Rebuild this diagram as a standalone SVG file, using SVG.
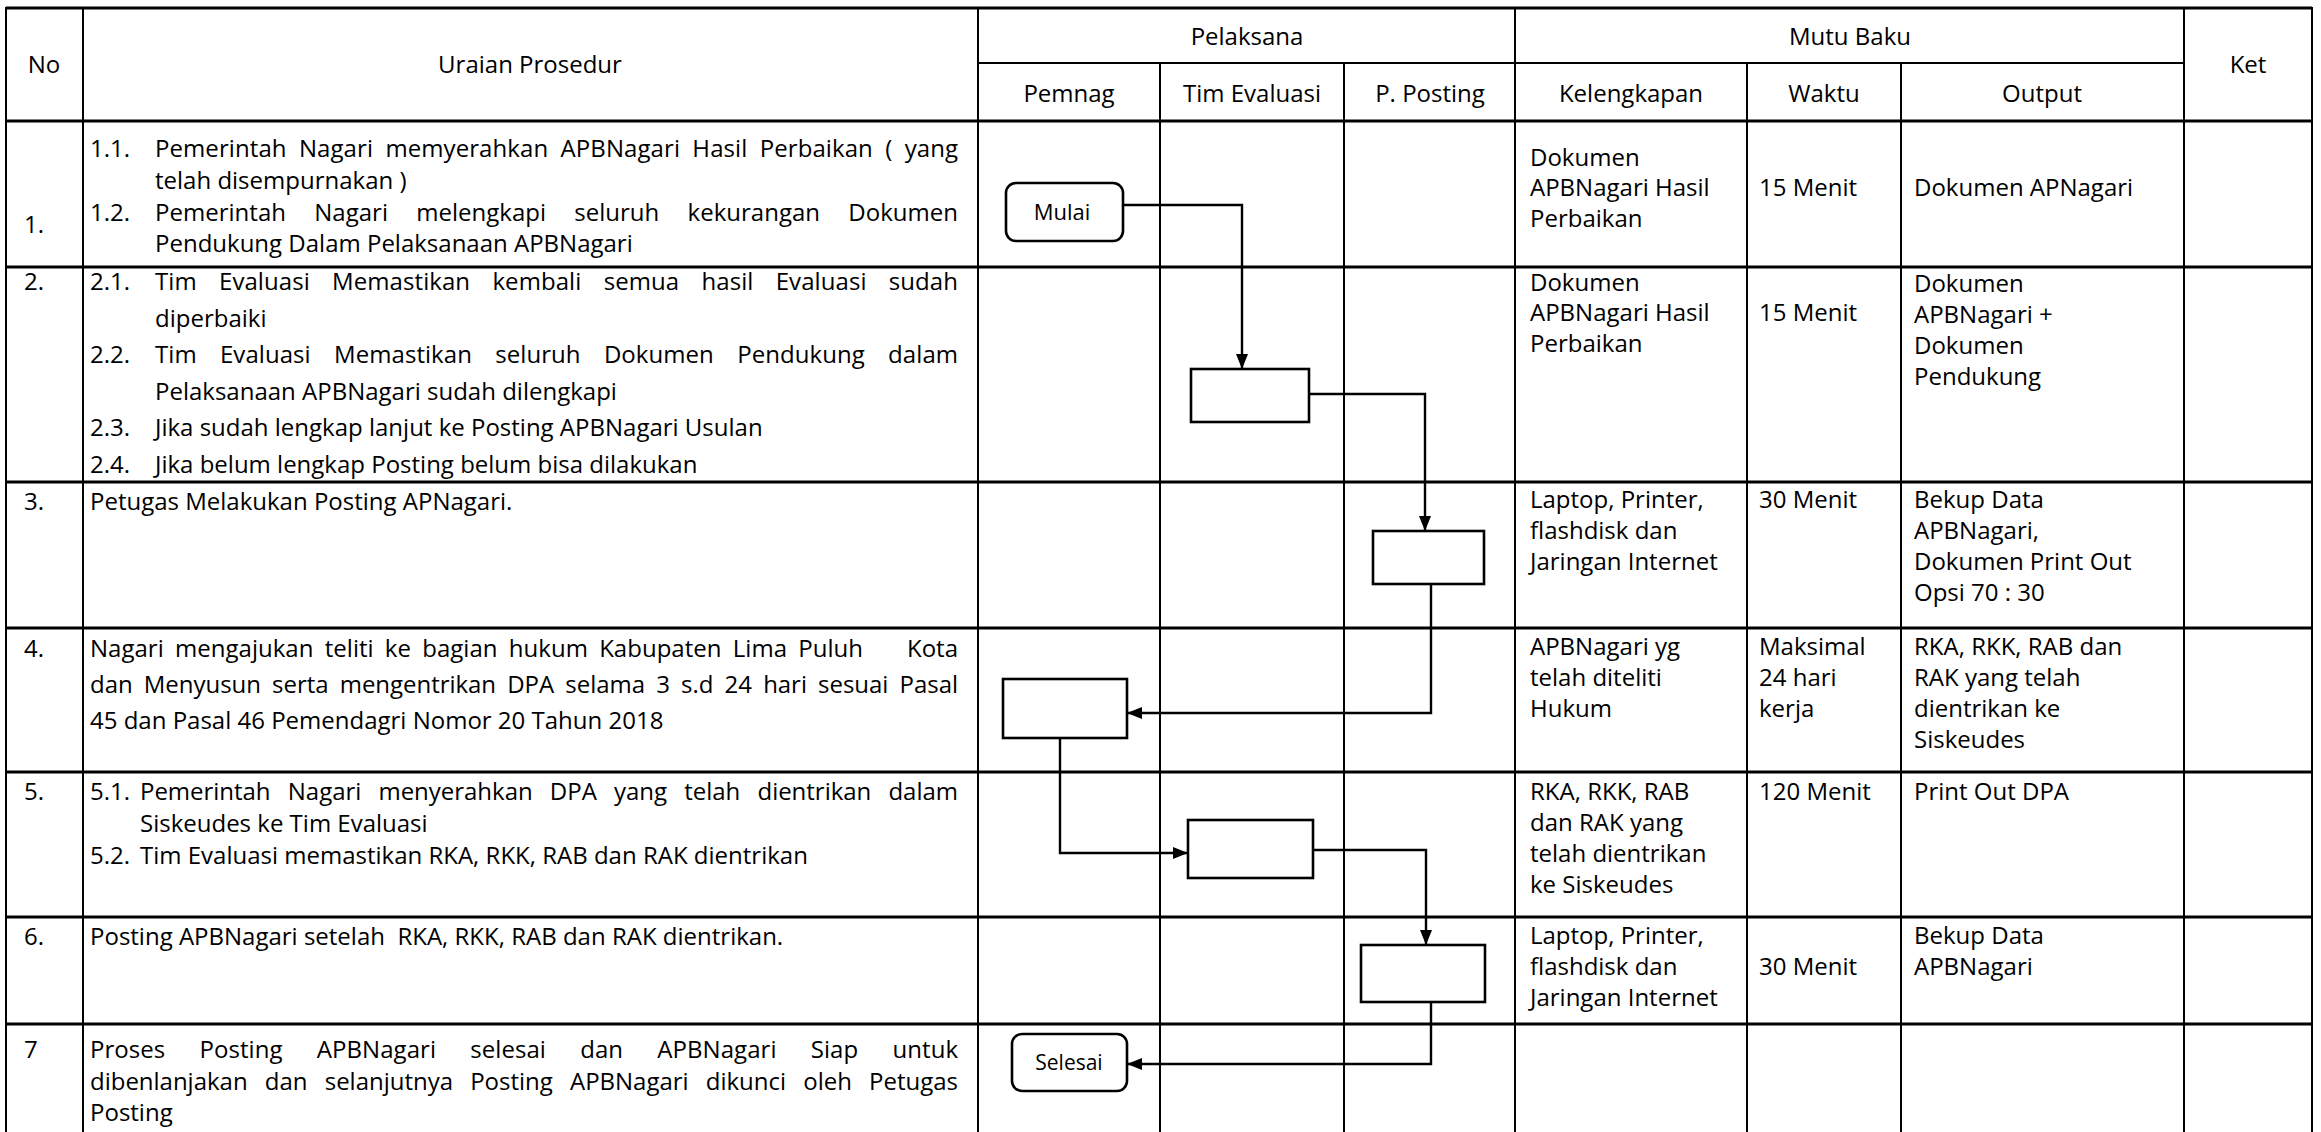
<svg xmlns="http://www.w3.org/2000/svg" width="2321" height="1132" viewBox="0 0 2321 1132">
<style>
text{font-family:"Open Sans","Liberation Sans",sans-serif;font-size:24px;fill:#000}
.m{text-anchor:middle}
.e{text-anchor:end}
.g line{stroke:#000;stroke-width:2}
.g .h{stroke-width:2.8}
.box{fill:#fff;stroke:#000;stroke-width:2.6}
.conn path{fill:none;stroke:#000;stroke-width:2.4;marker-end:url(#ah)}
.nl{font-size:22px}
.sl{font-size:21px}
</style>
<defs>
<marker id="ah" markerUnits="userSpaceOnUse" markerWidth="15" markerHeight="12" refX="15" refY="6" orient="auto"><path d="M0,0L15,6L0,12z" fill="#000"/></marker>
</defs>
<rect width="2321" height="1132" fill="#fff"/>
<g id="table" class="g">
<line class="h" x1="6" y1="8" x2="2312" y2="8"/>
<line x1="978" y1="63" x2="2184" y2="63"/>
<line class="h" x1="6" y1="121" x2="2312" y2="121"/>
<line class="h" x1="6" y1="267" x2="2312" y2="267"/>
<line class="h" x1="6" y1="482" x2="2312" y2="482"/>
<line class="h" x1="6" y1="628" x2="2312" y2="628"/>
<line class="h" x1="6" y1="772" x2="2312" y2="772"/>
<line class="h" x1="6" y1="917" x2="2312" y2="917"/>
<line class="h" x1="6" y1="1024" x2="2312" y2="1024"/>
<line x1="6" y1="7" x2="6" y2="1132"/>
<line x1="83" y1="7" x2="83" y2="1132"/>
<line x1="978" y1="7" x2="978" y2="1132"/>
<line x1="1160" y1="63" x2="1160" y2="1132"/>
<line x1="1344" y1="63" x2="1344" y2="1132"/>
<line x1="1515" y1="7" x2="1515" y2="1132"/>
<line x1="1747" y1="63" x2="1747" y2="1132"/>
<line x1="1901" y1="63" x2="1901" y2="1132"/>
<line x1="2184" y1="7" x2="2184" y2="1132"/>
<line x1="2312" y1="7" x2="2312" y2="1132"/>
</g>
<g id="header">
<text class="m" x="44" y="73">No</text>
<text class="m" x="530" y="73">Uraian Prosedur</text>
<text class="m" x="1247" y="45">Pelaksana</text>
<text class="m" x="1850" y="45">Mutu Baku</text>
<text class="m" x="2248" y="73">Ket</text>
<text class="m" x="1069" y="102">Pemnag</text>
<text class="m" x="1252" y="102">Tim Evaluasi</text>
<text class="m" x="1430" y="102">P. Posting</text>
<text class="m" x="1631" y="102">Kelengkapan</text>
<text class="m" x="1824" y="102">Waktu</text>
<text class="m" x="2042" y="102">Output</text>
</g>
<g id="row1">
<text x="24" y="233">1.</text>
<text x="90" y="157">1.1.</text>
<text x="155" y="157" textLength="803" lengthAdjust="spacing" word-spacing="6">Pemerintah Nagari memyerahkan APBNagari Hasil Perbaikan ( yang</text>
<text x="155" y="189">telah disempurnakan )</text>
<text x="90" y="221">1.2.</text>
<text x="155" y="221" textLength="803" lengthAdjust="spacing" word-spacing="22">Pemerintah Nagari melengkapi seluruh kekurangan Dokumen</text>
<text x="155" y="252">Pendukung Dalam Pelaksanaan APBNagari</text>
<text x="1530" y="166">Dokumen</text>
<text x="1530" y="196">APBNagari Hasil</text>
<text x="1530" y="227">Perbaikan</text>
<text x="1759" y="196">15 Menit</text>
<text x="1914" y="196">Dokumen APNagari</text>
</g>
<g id="row2">
<text x="24" y="290">2.</text>
<text x="90" y="290">2.1.</text>
<text x="155" y="290" textLength="803" lengthAdjust="spacing" word-spacing="16">Tim Evaluasi Memastikan kembali semua hasil Evaluasi sudah</text>
<text x="155" y="327">diperbaiki</text>
<text x="90" y="363">2.2.</text>
<text x="155" y="363" textLength="803" lengthAdjust="spacing" word-spacing="17">Tim Evaluasi Memastikan seluruh Dokumen Pendukung dalam</text>
<text x="155" y="400">Pelaksanaan APBNagari sudah dilengkapi</text>
<text x="90" y="436">2.3.</text>
<text x="155" y="436">Jika sudah lengkap lanjut ke Posting APBNagari Usulan</text>
<text x="90" y="473">2.4.</text>
<text x="155" y="473">Jika belum lengkap Posting belum bisa dilakukan</text>
<text x="1530" y="291">Dokumen</text>
<text x="1530" y="321">APBNagari Hasil</text>
<text x="1530" y="352">Perbaikan</text>
<text x="1759" y="321">15 Menit</text>
<text x="1914" y="292">Dokumen</text>
<text x="1914" y="323">APBNagari +</text>
<text x="1914" y="354">Dokumen</text>
<text x="1914" y="385">Pendukung</text>
</g>
<g id="row3">
<text x="24" y="510">3.</text>
<text x="90" y="510">Petugas Melakukan Posting APNagari.</text>
<text x="1530" y="508">Laptop, Printer,</text>
<text x="1530" y="539">flashdisk dan</text>
<text x="1530" y="570">Jaringan Internet</text>
<text x="1759" y="508">30 Menit</text>
<text x="1914" y="508">Bekup Data</text>
<text x="1914" y="539">APBNagari,</text>
<text x="1914" y="570">Dokumen Print Out</text>
<text x="1914" y="601">Opsi 70 : 30</text>
</g>
<g id="row4">
<text x="24" y="657">4.</text>
<text x="90" y="657" textLength="773" lengthAdjust="spacing" word-spacing="5">Nagari mengajukan teliti ke bagian hukum Kabupaten Lima Puluh</text>
<text class="e" x="958" y="657">Kota</text>
<text x="90" y="693" textLength="868" lengthAdjust="spacing" word-spacing="5">dan Menyusun serta mengentrikan DPA selama 3 s.d 24 hari sesuai Pasal</text>
<text x="90" y="729">45 dan Pasal 46 Pemendagri Nomor 20 Tahun 2018</text>
<text x="1530" y="655">APBNagari yg</text>
<text x="1530" y="686">telah diteliti</text>
<text x="1530" y="717">Hukum</text>
<text x="1759" y="655">Maksimal</text>
<text x="1759" y="686">24 hari</text>
<text x="1759" y="717">kerja</text>
<text x="1914" y="655">RKA, RKK, RAB dan</text>
<text x="1914" y="686">RAK yang telah</text>
<text x="1914" y="717">dientrikan ke</text>
<text x="1914" y="748">Siskeudes</text>
</g>
<g id="row5">
<text x="24" y="800">5.</text>
<text x="90" y="800">5.1.</text>
<text x="140" y="800" textLength="818" lengthAdjust="spacing" word-spacing="11">Pemerintah Nagari menyerahkan DPA yang telah dientrikan dalam</text>
<text x="140" y="832">Siskeudes ke Tim Evaluasi</text>
<text x="90" y="864">5.2.</text>
<text x="140" y="864">Tim Evaluasi memastikan RKA, RKK, RAB dan RAK dientrikan</text>
<text x="1530" y="800">RKA, RKK, RAB</text>
<text x="1530" y="831">dan RAK yang</text>
<text x="1530" y="862">telah dientrikan</text>
<text x="1530" y="893">ke Siskeudes</text>
<text x="1759" y="800">120 Menit</text>
<text x="1914" y="800">Print Out DPA</text>
</g>
<g id="row6">
<text x="24" y="945">6.</text>
<text x="90" y="945" xml:space="preserve">Posting APBNagari setelah  RKA, RKK, RAB dan RAK dientrikan.</text>
<text x="1530" y="944">Laptop, Printer,</text>
<text x="1530" y="975">flashdisk dan</text>
<text x="1530" y="1006">Jaringan Internet</text>
<text x="1759" y="975">30 Menit</text>
<text x="1914" y="944">Bekup Data</text>
<text x="1914" y="975">APBNagari</text>
</g>
<g id="row7">
<text x="24" y="1058">7</text>
<text x="90" y="1058" textLength="868" lengthAdjust="spacing" word-spacing="28">Proses Posting APBNagari selesai dan APBNagari Siap untuk</text>
<text x="90" y="1090" textLength="868" lengthAdjust="spacing" word-spacing="11">dibenlanjakan dan selanjutnya Posting APBNagari dikunci oleh Petugas</text>
<text x="90" y="1121">Posting</text>
</g>
<g id="connectors" class="conn">
<path d="M1123,205H1242V369"/>
<path d="M1309,394H1425V531"/>
<path d="M1431,584V713H1127"/>
<path d="M1060,738V853H1188"/>
<path d="M1313,850H1426V945"/>
<path d="M1431,1002V1064H1127"/>
</g>
<g id="mulai"><rect class="box" x="1006" y="183" width="117" height="58" rx="10"/><text class="m nl" x="1062" y="220">Mulai</text></g>
<g id="step2"><rect class="box" x="1191" y="369" width="118" height="53"/></g>
<g id="step3"><rect class="box" x="1373" y="531" width="111" height="53"/></g>
<g id="step4"><rect class="box" x="1003" y="679" width="124" height="59"/></g>
<g id="step5"><rect class="box" x="1188" y="820" width="125" height="58"/></g>
<g id="step6"><rect class="box" x="1361" y="945" width="124" height="57"/></g>
<g id="selesai"><rect class="box" x="1012" y="1034" width="115" height="57" rx="10"/><text class="m sl" x="1069" y="1070">Selesai</text></g>
</svg>
